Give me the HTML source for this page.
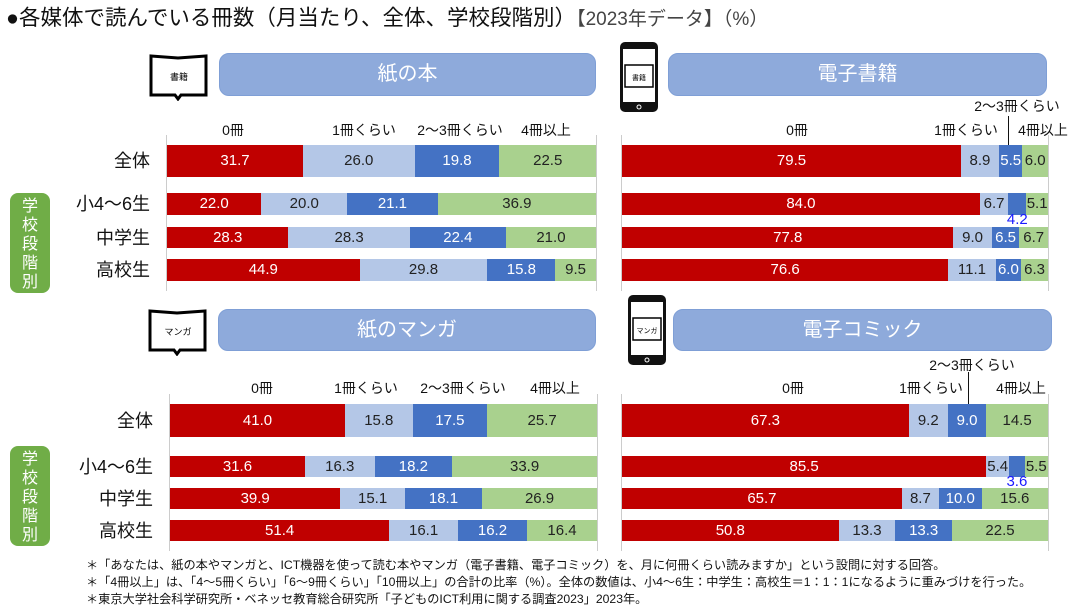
<!DOCTYPE html>
<html><head><meta charset="utf-8">
<style>
body{margin:0;width:1082px;height:611px;background:#fff;position:relative;overflow:hidden;font-family:"Liberation Sans","Noto Sans CJK JP",sans-serif;color:#111}
.abs{position:absolute}
.title{left:6px;top:4px;font-size:21.5px;white-space:nowrap;line-height:28px}
.title span{color:#444;font-size:19px}
.pill{background:#8eaadb;border:1px solid #7f9fd6;border-radius:10px;color:#fff;font-size:20px;text-align:center;box-sizing:border-box}
.cat{font-size:14px;white-space:nowrap;transform:translateX(-50%)}
.rowlab{font-size:18px;text-align:right;width:110px;white-space:nowrap}
.side{background:#70ad47;border-radius:8px;color:#fff;font-size:16px;width:40px;text-align:center;line-height:19px;box-sizing:border-box;padding-top:4px}
.note{font-size:12.2px;white-space:nowrap;left:86px}
.seg{position:absolute;text-align:center;font-size:15px;overflow:visible;white-space:nowrap;box-sizing:border-box}
.grid{position:absolute;width:1px;background:#ccc}
</style></head><body>
<div class="abs title">●各媒体で読んでいる冊数（月当たり、全体、学校段階別）<span>【2023年データ】（%）</span></div>

<svg class="abs" style="left:148px;top:53px" width="62" height="48"><path d="M3 3 L30 5 L58 3 L58 42 L33 42 L30 46 L27 42 L3 42 Z" fill="#fff" stroke="#000" stroke-width="3"/><text x="31" y="27" font-size="9" text-anchor="middle" font-family="Noto Sans CJK JP">書籍</text></svg>
<svg class="abs" style="left:147px;top:308px" width="62" height="48"><path d="M3 3 L30 5 L58 3 L58 42 L33 42 L30 46 L27 42 L3 42 Z" fill="#fff" stroke="#000" stroke-width="3"/><text x="31" y="27" font-size="9" text-anchor="middle" font-family="Noto Sans CJK JP">マンガ</text></svg>
<svg class="abs" style="left:619px;top:41px" width="40" height="72"><rect x="1" y="1" width="38" height="70" rx="5" fill="#111"/><rect x="4" y="8" width="32" height="53" fill="#fff"/><circle cx="20" cy="66" r="2" fill="none" stroke="#fff"/><rect x="6" y="24" width="28" height="22" fill="#fff" stroke="#000" stroke-width="1.5"/><text x="20" y="39" font-size="7" text-anchor="middle" font-family="Noto Sans CJK JP">書籍</text></svg>
<svg class="abs" style="left:627px;top:294px" width="40" height="72"><rect x="1" y="1" width="38" height="70" rx="5" fill="#111"/><rect x="4" y="8" width="32" height="53" fill="#fff"/><circle cx="20" cy="66" r="2" fill="none" stroke="#fff"/><rect x="6" y="24" width="28" height="22" fill="#fff" stroke="#000" stroke-width="1.5"/><text x="20" y="39" font-size="7" text-anchor="middle" font-family="Noto Sans CJK JP">マンガ</text></svg>

<div class="abs pill" style="left:219px;top:53px;width:377px;height:43px;line-height:41px">紙の本</div>
<div class="abs pill" style="left:668px;top:53px;width:379px;height:43px;line-height:41px">電子書籍</div>
<div class="abs pill" style="left:218px;top:309px;width:378px;height:42px;line-height:40px">紙のマンガ</div>
<div class="abs pill" style="left:673px;top:309px;width:379px;height:42px;line-height:40px">電子コミック</div>

<div class="abs side" style="left:10px;top:193px;height:100px">学<br>校<br>段<br>階<br>別</div>
<div class="abs side" style="left:10px;top:446px;height:100px">学<br>校<br>段<br>階<br>別</div>

<div id="charts"></div>

<div class="abs note" style="top:555px">＊「あなたは、紙の本やマンガと、ICT機器を使って読む本やマンガ（電子書籍、電子コミック）を、月に何冊くらい読みますか」という設問に対する回答。</div>
<div class="abs note" style="top:572px">＊「4冊以上」は、「4～5冊くらい」「6～9冊くらい」「10冊以上」の合計の比率（%）。全体の数値は、小4～6生：中学生：高校生＝1：1：1になるように重みづけを行った。</div>
<div class="abs note" style="top:589px">＊東京大学社会科学研究所・ベネッセ教育総合研究所「子どものICT利用に関する調査2023」2023年。</div>

<script>
const categories = ["0冊","1冊くらい","2～3冊くらい","4冊以上"];
const rowLabels = ["全体","小4～6生","中学生","高校生"];
const paperBook = [[31.7,26.0,19.8,22.5],[22.0,20.0,21.1,36.9],[28.3,28.3,22.4,21.0],[44.9,29.8,15.8,9.5]];
const eBook = [[79.5,8.9,5.5,6.0],[84.0,6.7,4.2,5.1],[77.8,9.0,6.5,6.7],[76.6,11.1,6.0,6.3]];
const paperManga = [[41.0,15.8,17.5,25.7],[31.6,16.3,18.2,33.9],[39.9,15.1,18.1,26.9],[51.4,16.1,16.2,16.4]];
const eComic = [[67.3,9.2,9.0,14.5],[85.5,5.4,3.6,5.5],[65.7,8.7,10.0,15.6],[50.8,13.3,13.3,22.5]];

const colors=["#c00000","#b4c7e7","#4472c4","#a9d18e"];
const txt=["#fff","#222","#fff","#222"];
const root=document.getElementById('charts');
function panel(data,x0,x1,rowsY,catY,showRows,name,catPos){
  const W=x1-x0;
  const g1=document.createElement('div');g1.className='grid';
  
  
  g1.style.cssText=`left:${x0-1}px;top:${rowsY[0][0]-10}px;height:${rowsY[3][0]+rowsY[3][1]-rowsY[0][0]+20}px`;root.appendChild(g1);
  const g2=g1.cloneNode();g2.style.left=(x1)+'px';
  
  
  root.appendChild(g2);
  data.forEach((row,r)=>{
    const sum=row.reduce((a,b)=>a+b,0);
    let acc=0;const [y,h]=rowsY[r];
    row.forEach((v,i)=>{
      const l=x0+acc/sum*W,w=v/sum*W;acc+=v;
      const s=document.createElement('div');s.className='seg';
      
      
      s.style.cssText=`left:${l}px;top:${y}px;width:${w}px;height:${h}px;line-height:${h}px;background:${colors[i]};color:${txt[i]}`;
      if(v<5&&i==2){s.style.overflow='visible';
        const t=document.createElement('div');t.textContent=v.toFixed(1);
        
        
        t.style.cssText=`position:absolute;left:50%;top:${h-3}px;transform:translateX(-50%);line-height:16px;color:#1a1aff`;s.appendChild(t);}
      else s.textContent=v.toFixed(1);
      root.appendChild(s);
    });
    if(showRows){
      const lb=document.createElement('div');lb.className='abs rowlab';
      
      
      lb.style.cssText+=`left:${x0-127}px;top:${y+h/2-12}px;line-height:24px`;lb.textContent=rowLabels[r];root.appendChild(lb);
    }
  });
  categories.forEach((c,i)=>{
    const d=document.createElement('div');d.className='abs cat';
    
    
    d.style.left=catPos[i][0]+'px';d.style.top=catPos[i][1]+'px';d.textContent=c;root.appendChild(d);
  });
}
const topRows=[[145,32],[193,22],[227,21],[259,22]];
const botRows=[[404,33],[456,21],[488,21],[520,21]];
panel(paperBook,167,596,topRows,120,true,'paper-book',[[233,120],[364,120],[460,120],[546,120]]);
panel(eBook,622,1048,topRows,120,false,'ebook',[[797,120],[966,120],[1017,96],[1043,120]]);
panel(paperManga,170,597,botRows,378,true,'paper-manga',[[262,378],[366,378],[463,378],[555,378]]);
panel(eComic,622,1048,botRows,378,false,'ecomic',[[793,378],[931,378],[972,355],[1021,378]]);
[[1008,116,145],[968,372,404]].forEach((p,k)=>{
  const l=document.createElement('div');
  
  
  l.style.cssText=`position:absolute;left:${p[0]}px;top:${p[1]}px;width:1px;height:${p[2]-p[1]}px;background:#111`;root.appendChild(l);
});
</script>
</body></html>
